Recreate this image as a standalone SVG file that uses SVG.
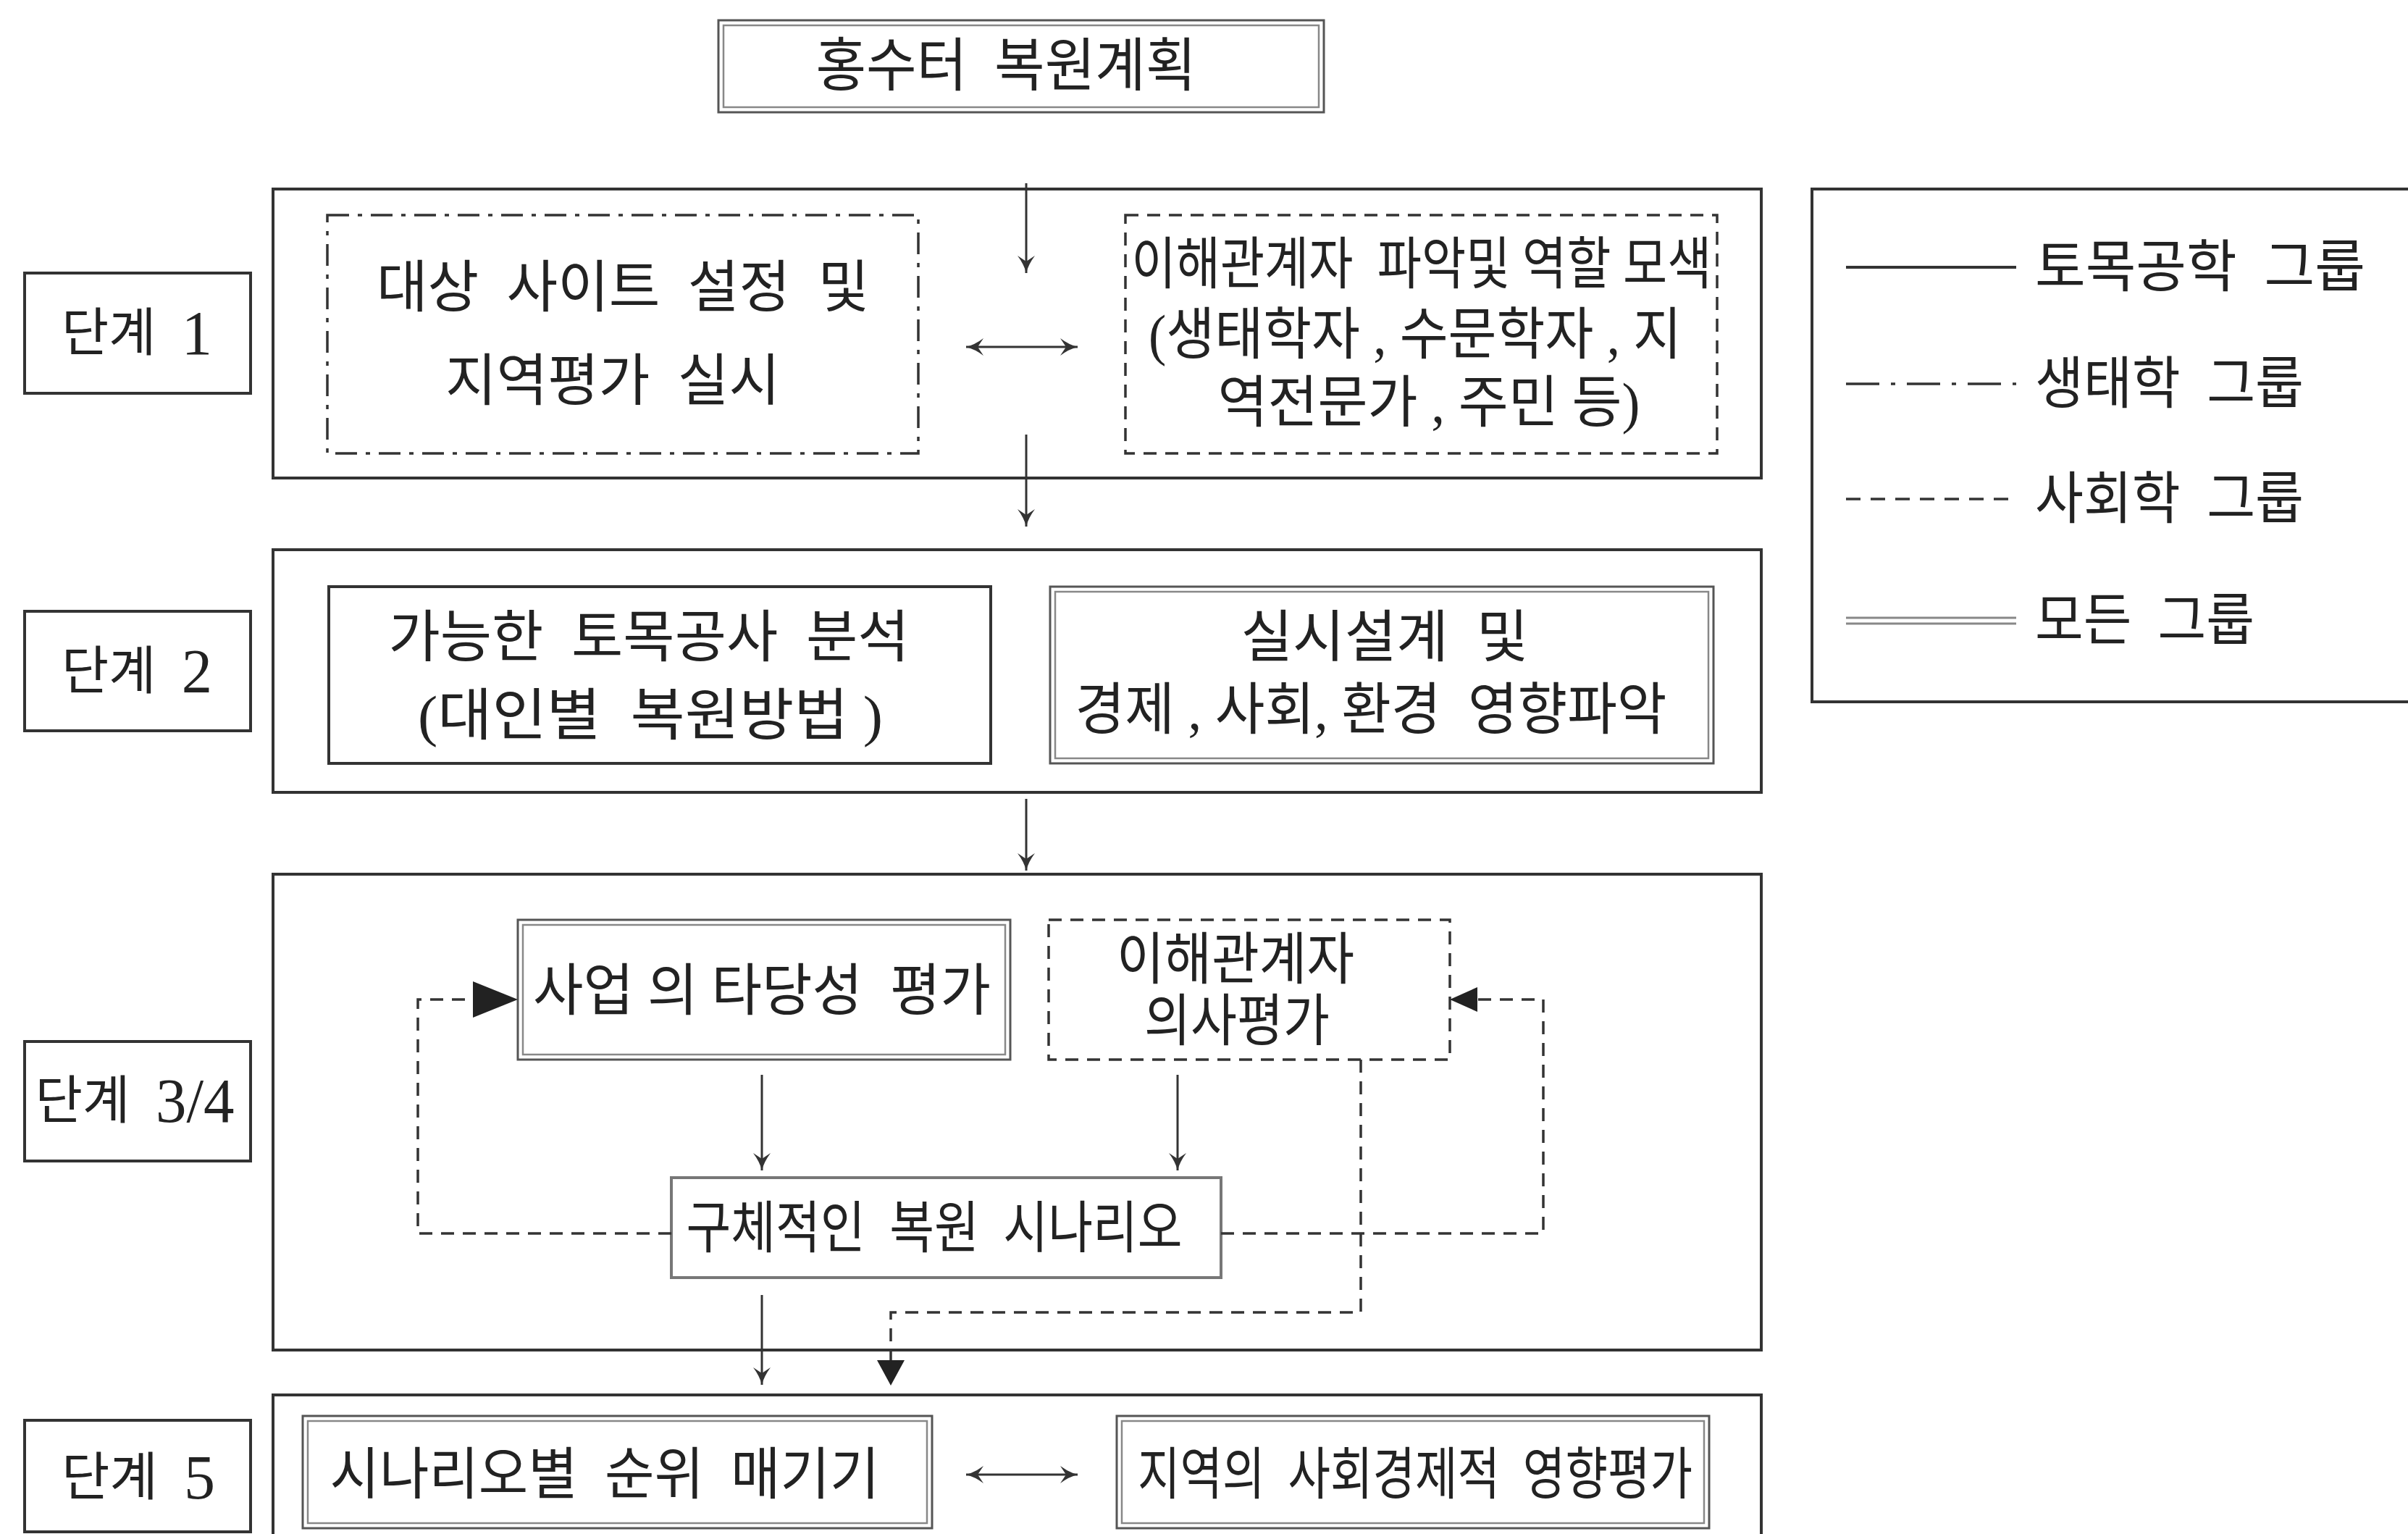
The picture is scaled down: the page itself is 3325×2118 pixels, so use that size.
<svg xmlns="http://www.w3.org/2000/svg" width="3325" height="2118" viewBox="0 0 3325 2118">
<style>
.bg{fill:#ffffff}
.box{fill:none;stroke:#333;stroke-width:4}
.lbl{fill:none;stroke:#333;stroke-width:4}
.d1{fill:none;stroke:#555;stroke-width:3}
.d2{fill:none;stroke:#888;stroke-width:2.5}
.dd{fill:none;stroke:#333;stroke-width:3.5;stroke-dasharray:30 12 6 12}
.ds{fill:none;stroke:#333;stroke-width:3.5;stroke-dasharray:18 12}
.gr{fill:none;stroke:#777;stroke-width:4}
.ln{fill:none;stroke:#333;stroke-width:3}
.dl{fill:none;stroke:#333;stroke-width:3.5;stroke-dasharray:18 12}
.tri{fill:#222}
text{font-family:"Liberation Serif","Noto Sans CJK KR",sans-serif;fill:#222;dominant-baseline:central;white-space:pre}
.c{text-anchor:middle}
.b{font-size:78px}
.s{font-size:72px}
.n{font-size:86px}
</style>
<defs>
<marker id="ah" viewBox="-28 -14 30 28" refX="0" refY="0" markerWidth="30" markerHeight="28" markerUnits="userSpaceOnUse" orient="auto-start-reverse">
<path d="M-24,-12 Q-12,-3 0,0 Q-12,3 -24,12 L-16,0 Z" fill="#333"/>
</marker>
</defs>
<rect class="bg" x="0" y="0" width="3325" height="2118"/>

<g id="title">
<rect class="d1" x="992" y="28" width="836" height="127"/>
<rect class="d2" x="999" y="35" width="822" height="113"/>
<text class="c" x="1389" y="91" font-size="80" textLength="525" lengthAdjust="spacingAndGlyphs">홍수터  복원계획</text>
</g>

<g id="stage1-label">
<rect class="lbl" x="34" y="377" width="312" height="166"/>
<text class="c s" x="189" y="460" textLength="208" lengthAdjust="spacingAndGlyphs">단계  <tspan class="n">1</tspan></text>
</g>
<g id="stage2-label">
<rect class="lbl" x="34" y="844" width="312" height="165"/>
<text class="c s" x="189" y="927" textLength="208" lengthAdjust="spacingAndGlyphs">단계  <tspan class="n">2</tspan></text>
</g>
<g id="stage34-label">
<rect class="lbl" x="34" y="1438" width="312" height="165"/>
<text class="c s" x="186" y="1520" textLength="275" lengthAdjust="spacingAndGlyphs">단계  <tspan class="n">3/4</tspan></text>
</g>
<g id="stage5-label">
<rect class="lbl" x="34" y="1961" width="312" height="154"/>
<text class="c s" x="191" y="2040" textLength="212" lengthAdjust="spacingAndGlyphs">단계  <tspan class="n">5</tspan></text>
</g>

<g id="stage1">
<rect class="box" x="377" y="261" width="2055" height="399"/>
</g>
<g id="stage2">
<rect class="box" x="377" y="759" width="2055" height="335"/>
</g>
<g id="stage34">
<rect class="box" x="377" y="1207" width="2055" height="657"/>
</g>
<g id="stage5">
<path class="box" d="M377,2130 V1926 H2432 V2130"/>
</g>

<g id="legend">
<path class="box" d="M3340,261 H2502 V969 H3340"/>
<line x1="2549" y1="369" x2="2784" y2="369" stroke="#333" stroke-width="4"/>
<line x1="2549" y1="530" x2="2784" y2="530" stroke="#333" stroke-width="3.5" stroke-dasharray="46 16 6 16"/>
<line x1="2549" y1="689" x2="2784" y2="689" stroke="#333" stroke-width="3.5" stroke-dasharray="20 14"/>
<line x1="2549" y1="853" x2="2784" y2="853" stroke="#888" stroke-width="3"/>
<line x1="2549" y1="861" x2="2784" y2="861" stroke="#888" stroke-width="3"/>
<text class="b" x="2810" y="369" textLength="456" lengthAdjust="spacingAndGlyphs">토목공학  그룹</text>
<text class="b" x="2810" y="530" textLength="371" lengthAdjust="spacingAndGlyphs">생태학  그룹</text>
<text class="b" x="2810" y="689" textLength="371" lengthAdjust="spacingAndGlyphs">사회학  그룹</text>
<text class="b" x="2810" y="857" textLength="303" lengthAdjust="spacingAndGlyphs">모든  그룹</text>
</g>

<g id="site-setup">
<rect class="dd" x="452" y="297" width="816" height="329"/>
<text class="c b" x="860" y="397" textLength="680" lengthAdjust="spacingAndGlyphs">대상  사이트  설정  및</text>
<text class="c b" x="846" y="526" textLength="462" lengthAdjust="spacingAndGlyphs">지역평가  실시</text>
</g>

<g id="stakeholder-id">
<rect class="ds" x="1554" y="297" width="817" height="329"/>
<text class="c b" x="1963" y="365" textLength="801" lengthAdjust="spacingAndGlyphs">이해관계자  파악및 역할 모색</text>
<text class="c b" x="1954" y="462" textLength="736" lengthAdjust="spacingAndGlyphs">(생태학자 , 수문학자 , 지</text>
<text class="c b" x="1973" y="556" textLength="583" lengthAdjust="spacingAndGlyphs">역전문가 , 주민 등)</text>
</g>

<g id="civil-analysis">
<rect class="box" x="454" y="810" width="914" height="244"/>
<text class="c b" x="896" y="880" textLength="719" lengthAdjust="spacingAndGlyphs">가능한  토목공사  분석</text>
<text class="c b" x="898" y="988" textLength="642" lengthAdjust="spacingAndGlyphs">(대인별  복원방법 )</text>
</g>

<g id="design-impact">
<rect class="d1" x="1450" y="810" width="916" height="244"/>
<rect class="d2" x="1457" y="817" width="902" height="230"/>
<text class="c b" x="1912" y="880" textLength="397" lengthAdjust="spacingAndGlyphs">실시설계  및</text>
<text class="c b" x="1893" y="980" textLength="817" lengthAdjust="spacingAndGlyphs">경제 , 사회, 환경  영향파악</text>
</g>

<g id="feasibility">
<rect class="d1" x="715" y="1270" width="680" height="193"/>
<rect class="d2" x="722" y="1277" width="666" height="179"/>
<text class="c b" x="1052" y="1368" textLength="632" lengthAdjust="spacingAndGlyphs">사업 의 타당성  평가</text>
</g>

<g id="stakeholder-eval">
<rect class="ds" x="1448" y="1270" width="554" height="193"/>
<text class="c b" x="1706" y="1325" textLength="328" lengthAdjust="spacingAndGlyphs">이해관계자</text>
<text class="c b" x="1708" y="1410" textLength="256" lengthAdjust="spacingAndGlyphs">의사평가</text>
</g>

<g id="scenario">
<rect class="gr" x="927" y="1626" width="759" height="138"/>
<text class="c b" x="1290" y="1696" textLength="685" lengthAdjust="spacingAndGlyphs">구체적인  복원  시나리오</text>
</g>

<g id="ranking">
<rect class="d1" x="418" y="1955" width="869" height="155"/>
<rect class="d2" x="425" y="1962" width="855" height="141"/>
<text class="c b" x="835" y="2036" textLength="759" lengthAdjust="spacingAndGlyphs">시나리오별  순위  매기기</text>
</g>

<g id="socio-eval">
<rect class="d1" x="1542" y="1955" width="818" height="155"/>
<rect class="d2" x="1549" y="1962" width="804" height="141"/>
<text class="c b" x="1954" y="2036" textLength="766" lengthAdjust="spacingAndGlyphs">지역의  사회경제적  영향평가</text>
</g>

<g id="connectors">
<line class="ln" x1="1417" y1="253" x2="1417" y2="377" marker-end="url(#ah)"/>
<line class="ln" x1="1334" y1="479" x2="1488" y2="479" marker-start="url(#ah)" marker-end="url(#ah)"/>
<line class="ln" x1="1417" y1="600" x2="1417" y2="727" marker-end="url(#ah)"/>
<line class="ln" x1="1417" y1="1103" x2="1417" y2="1202" marker-end="url(#ah)"/>
<line class="ln" x1="1052" y1="1484" x2="1052" y2="1616" marker-end="url(#ah)"/>
<line class="ln" x1="1626" y1="1484" x2="1626" y2="1616" marker-end="url(#ah)"/>
<path class="dl" d="M927,1703 H577 V1380 H653"/>
<polygon class="tri" points="653,1355 715,1380 653,1405"/>
<path class="dl" d="M1686,1703 H2131 V1380 H2040"/>
<polygon class="tri" points="2040,1363 2002,1380 2040,1397"/>
<path class="dl" d="M1879,1463 V1812 H1230 V1878"/>
<polygon class="tri" points="1211,1878 1249,1878 1230,1913"/>
<line class="ln" x1="1052" y1="1788" x2="1052" y2="1912" marker-end="url(#ah)"/>
<line class="ln" x1="1334" y1="2036" x2="1488" y2="2036" marker-start="url(#ah)" marker-end="url(#ah)"/>
</g>
</svg>
